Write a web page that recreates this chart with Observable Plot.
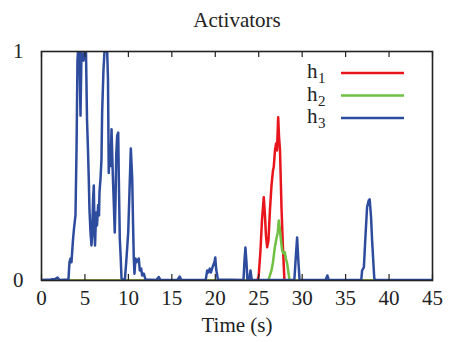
<!DOCTYPE html>
<html><head><meta charset="utf-8">
<script src="https://cdn.jsdelivr.net/npm/d3@7"></script>
<script src="https://cdn.jsdelivr.net/npm/@observablehq/plot@0.6"></script>
<style>body{margin:0;background:#fff} svg text{font-family:"Liberation Serif","Times New Roman",serif !important;}</style>
</head><body><div id="chart"></div>
<script>
const title = "Activators";
const xLabel = "Time (s)";
const xTicks = [0,5,10,15,20,25,30,35,40,45];
const yTicks = [0,1];
const seriesNames = ["h1","h2","h3"];
const seriesColors = ["#e8151c","#6fc043","#2e4c9e"];

const h1Time = [0,24.86,25.0,25.2,25.37,25.58,25.72,25.83,25.97,26.12,26.29,26.47,26.64,26.73,26.87,27.0,27.1,27.24,27.33,27.45,27.62,27.77,27.88,27.96,45];
const h1Val  = [0,0,0.022,0.13,0.26,0.364,0.284,0.197,0.145,0.175,0.306,0.415,0.48,0.495,0.568,0.598,0.568,0.713,0.633,0.568,0.32,0.16,0.066,0,0];

const h2Time = [0,26.09,26.29,26.47,26.64,26.85,27.04,27.19,27.31,27.42,27.56,27.7,27.85,28.0,28.13,28.27,28.42,28.54,45];
const h2Val  = [0,0,0.022,0.044,0.08,0.144,0.183,0.21,0.262,0.227,0.175,0.131,0.118,0.124,0.096,0.074,0.035,0,0];

const h3Time = [0,1.04,1.6,1.84,2.07,3.1,3.22,3.34,3.45,3.62,3.74,3.91,4.03,4.14,4.2,4.37,4.49,4.6,4.83,4.95,5.12,5.24,5.35,5.44,5.52,5.64,5.75,5.83,5.93,6.02,6.1,6.16,6.29,6.39,6.52,6.62,6.67,6.79,6.9,6.98,7.13,7.25,7.56,7.65,7.74,7.82,7.94,8.06,8.2,8.32,8.43,8.52,8.6,8.71,8.83,8.9,9.01,9.09,9.21,9.59,9.75,9.98,10.16,10.28,10.44,10.53,10.62,10.7,10.82,10.93,11.01,11.2,11.31,11.47,11.59,11.77,11.97,13.2,13.5,13.7,15.65,15.9,16.1,18.9,19.07,19.2,19.37,19.5,19.7,19.9,20.0,20.1,20.3,23.25,23.36,23.47,23.59,23.7,23.9,24.05,24.2,29.1,29.23,29.42,29.5,29.57,29.7,32.7,32.9,33.05,36.8,36.9,37.1,37.28,37.47,37.66,37.77,37.93,38.05,38.2,38.3,38.4,45];
const h3Val  = [0.002,0.004,0.007,0.013,0.002,0.004,0.08,0.096,0.08,0.175,0.227,0.284,0.57,0.96,1,1,0.72,0.995,0.96,1,1,0.70,0.57,0.445,0.31,0.21,0.153,0.197,0.35,0.415,0.22,0.153,0.297,0.24,0.33,0.284,0.384,0.445,0.524,0.734,0.917,1,1,0.88,0.47,0.59,0.50,0.66,0.47,0.34,0.21,0.35,0.546,0.633,0.646,0.445,0.183,0.122,0.009,0,0.08,0.21,0.43,0.576,0.445,0.26,0.1,0.03,0.096,0.08,0.087,0.096,0.044,0.052,0.022,0.03,0.004,0.002,0.015,0.002,0.002,0.017,0.002,0.002,0.044,0.035,0.052,0.035,0.06,0.08,0.1,0.05,0.004,0.002,0.087,0.144,0.08,0.002,0.002,0.044,0.002,0.002,0.08,0.188,0.13,0.08,0.002,0.002,0.022,0.002,0.002,0.044,0.057,0.19,0.32,0.35,0.354,0.276,0.175,0.074,0.009,0.002,0.002];

const rows = [];
[[h1Time,h1Val],[h2Time,h2Val],[h3Time,h3Val]].forEach(([t,v],k) => {
  t.forEach((tt,i) => rows.push({series: seriesNames[k], t: tt, v: v[i]}));
});

const W = 450, H = 342;
const mL = 41, mR = 18, mT = 51, mB = 62;
const frameH = H - mT - mB;

function legend(index, scales, values, dims) {
  const g = d3.create("svg:g").attr("text-anchor", "start");
  const right = dims.width - dims.marginRight;
  seriesNames.forEach((name, i) => {
    const y = dims.marginTop + 22 + i * 22.5;
    g.append("text").attr("x", right - 125).attr("y", y + 5).attr("font-size", 21).attr("fill","#222")
      .text(name.slice(0,1));
    g.append("text").attr("x", right - 114).attr("y", y + 10).attr("font-size", 15).attr("fill","#222")
      .text(name.slice(1));
    g.append("line").attr("x1", right - 91).attr("x2", right - 28)
      .attr("y1", y).attr("y2", y)
      .attr("stroke", seriesColors[i]).attr("stroke-width", 2.4);
  });
  return g.node();
}

const chart = Plot.plot({
  width: W, height: H,
  marginLeft: mL, marginRight: mR, marginTop: mT, marginBottom: mB,
  style: {fontFamily: "Liberation Serif, Times New Roman, serif", fontSize: "21px", color: "#222", background: "#fff"},
  x: {domain: [0,45], ticks: xTicks, tickSize: 0, tickPadding: 10, label: null},
  y: {domain: [0,1], ticks: yTicks, tickSize: 0, tickPadding: 18, label: null, tickFormat: d3.format("d")},
  color: {domain: seriesNames, range: seriesColors},
  marks: [
    Plot.line(rows, {x: "t", y: "v", z: "series", stroke: "series", strokeWidth: 2.5, clip: true}),
    Plot.tickX(xTicks, {x: d => d, insetTop: frameH - 6, stroke: "#222", strokeWidth: 1.2}),
    Plot.tickX(xTicks, {x: d => d, insetBottom: frameH - 6, stroke: "#222", strokeWidth: 1.2}),
    Plot.frame({stroke: "#222", strokeWidth: 1.6}),
    Plot.text([title], {frameAnchor: "top", dy: -39, fontSize: 21, fill: "#222"}),
    Plot.text([xLabel], {frameAnchor: "bottom", dy: 51, fontSize: 21, fill: "#222"}),
    legend
  ]
});
document.getElementById("chart").append(chart);
</script></body></html>
